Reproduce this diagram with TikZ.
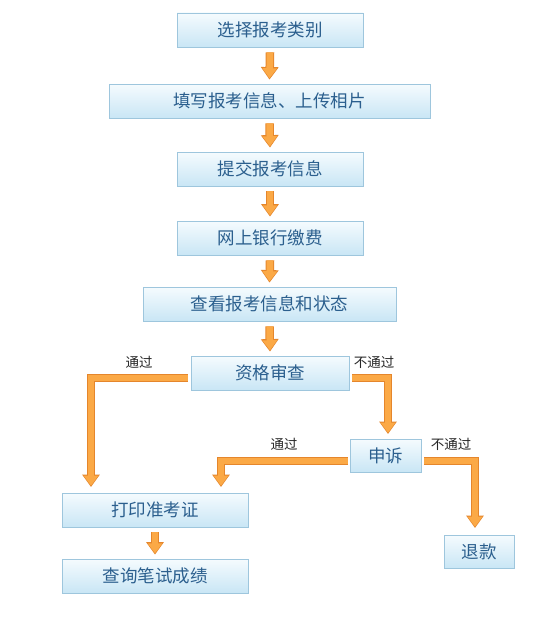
\documentclass[tikz,border=0pt]{standalone}
\usepackage{fontspec}
\setmainfont{Noto Sans CJK SC}
\usetikzlibrary{arrows.meta,positioning}
\definecolor{boxtop}{HTML}{F5FBFE}
\definecolor{boxbot}{HTML}{C9E6F5}
\definecolor{boxline}{HTML}{9EC6DD}
\definecolor{boxtext}{HTML}{2B5F8E}
\definecolor{arrlight}{HTML}{FBA946}
\definecolor{arrdark}{HTML}{E5862C}
\tikzset{
  stepbox/.style={draw=boxline, line width=0.8pt, top color=boxtop, bottom color=boxbot,
    minimum height=34pt, inner sep=0pt, text=boxtext, font=\fontsize{17.5}{19}\selectfont, anchor=center},
  fat/.style={line width=6.5pt, draw=arrlight, line join=miter,
    -{Triangle[width=14pt,length=10pt]}, shorten >=1.3pt,
    preaction={draw=arrdark, line width=8.5pt, -{Triangle[width=17pt,length=12.5pt]}, shorten >=0pt}},
  lbl/.style={font=\fontsize{13.5}{15}\selectfont, text=black!85, inner sep=0pt}
}
\begin{document}
\begin{tikzpicture}[x=1pt,y=-1pt]
\useasboundingbox (0,0) rectangle (540,634);
\fill[white] (0,0) rectangle (540,634);
\node[stepbox, minimum width=186pt] (s1) at (270,30) {选择报考类别};
\node[stepbox, minimum width=321pt] (s2) at (269.5,101) {填写报考信息、上传相片};
\node[stepbox, minimum width=186pt] (s3) at (270,169) {提交报考信息};
\node[stepbox, minimum width=186pt] (s4) at (270,238) {网上银行缴费};
\node[stepbox, minimum width=253pt] (s5) at (269.5,304) {查看报考信息和状态};
\node[stepbox, minimum width=158pt] (s6) at (270,373) {资格审查};
\node[stepbox, minimum width=71pt, minimum height=33pt] (s7) at (385.5,455.5) {申诉};
\node[stepbox, minimum width=186pt] (s8) at (155,510) {打印准考证};
\node[stepbox, minimum width=186pt] (s9) at (155,576) {查询笔试成绩};
\node[stepbox, minimum width=70pt, minimum height=33pt] (s10) at (479,551.5) {退款};

\draw[fat] ([yshift=-5pt]s1.south) -- ([yshift=4pt]s2.north);
\draw[fat] ([yshift=-5pt]s2.south) -- ([yshift=4pt]s3.north);
\draw[fat] ([yshift=-5pt]s3.south) -- ([yshift=4pt]s4.north);
\draw[fat] ([yshift=-5pt]s4.south) -- ([yshift=4pt]s5.north);
\draw[fat] ([yshift=-5pt]s5.south) -- ([yshift=4pt]s6.north);
\draw[fat] ([yshift=-5pt]s8.south) -- ([yshift=4pt]s9.north);

\coordinate (c1) at (91,378);
\draw[fat] ([xshift=-3pt,yshift=-5pt]s6.west) -- (c1) -- (c1 |- 0,487);
\coordinate (c2) at (388,378);
\draw[fat] ([xshift=3pt,yshift=-5pt]s6.east) -- (c2) -- (c2 |- 0,434);
\coordinate (c3) at (221,461);
\draw[fat] ([xshift=-2pt,yshift=-5.5pt]s7.west) -- (c3) -- (c3 |- 0,487);
\coordinate (c4) at (475,461);
\draw[fat] ([xshift=3pt,yshift=-5.5pt]s7.east) -- (c4) -- (c4 |- 0,528);

\node[lbl] (l1) at (139,362) {通过};
\node[lbl] (l2) at (374,362) {不通过};
\node[lbl] (l3) at (284,444) {通过};
\node[lbl] (l4) at (451,444) {不通过};
\end{tikzpicture}
\end{document}
